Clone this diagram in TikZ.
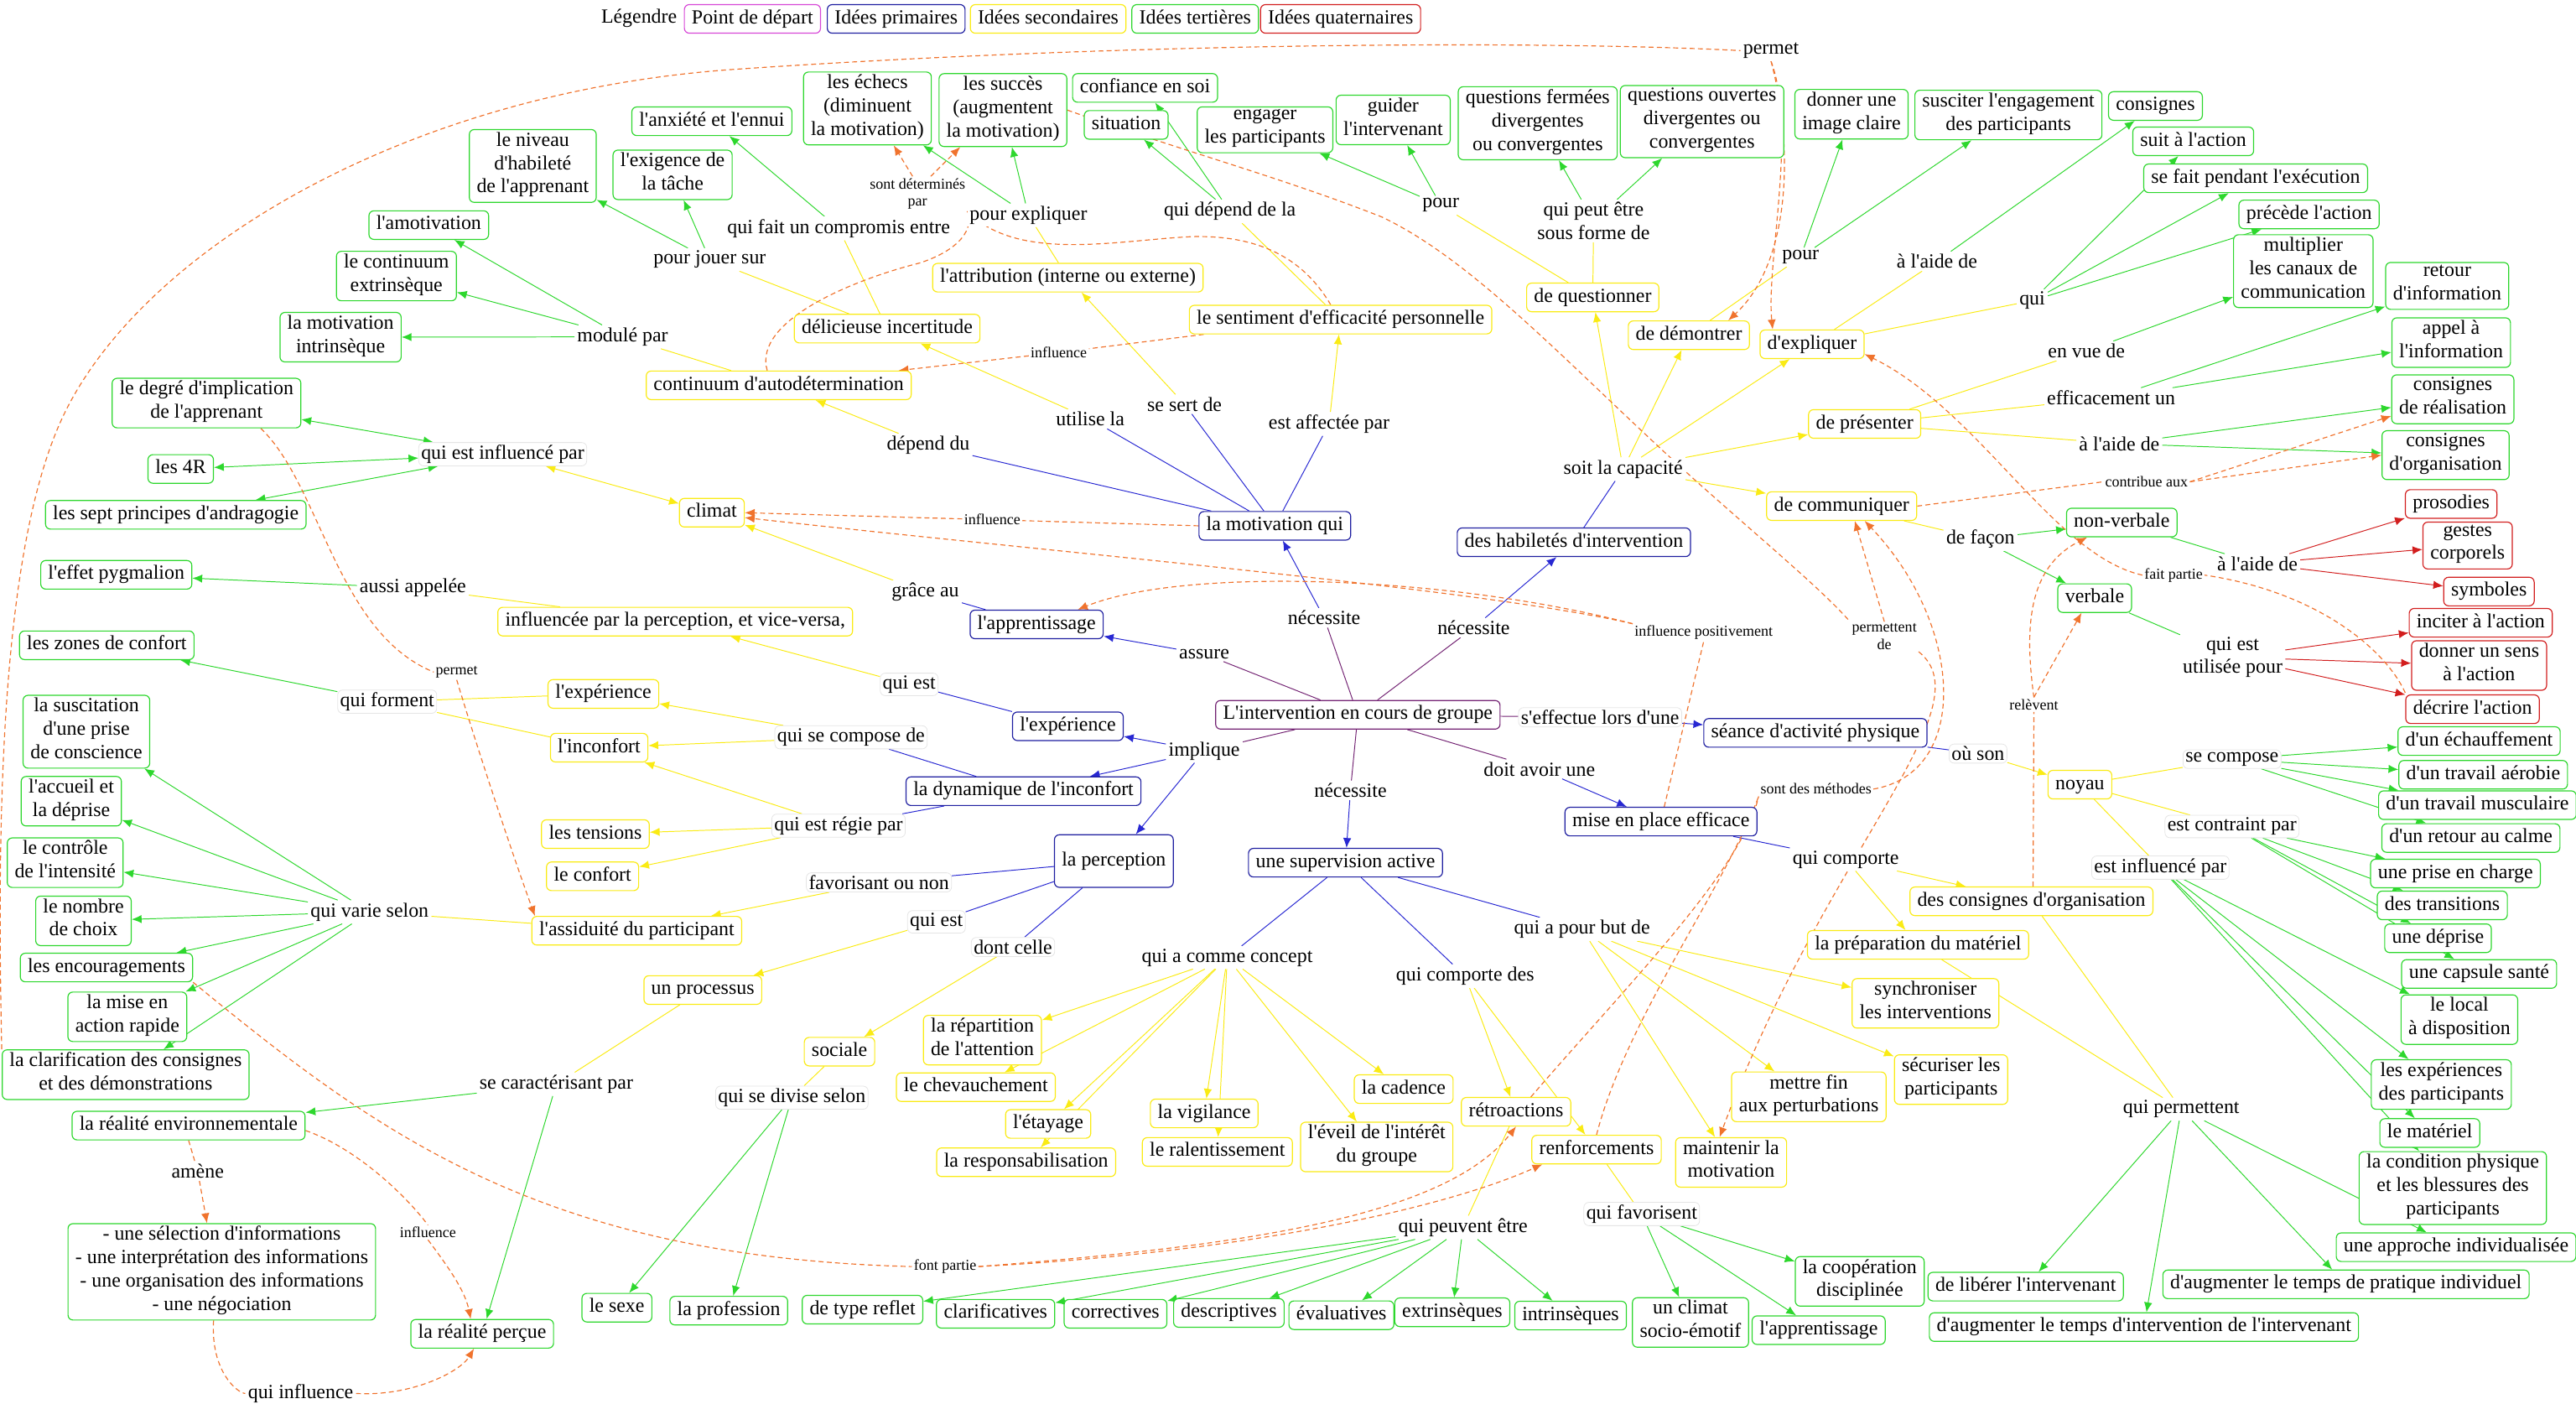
\documentclass[tikz,border=0pt]{standalone}
\usepackage{fontspec}
\setmainfont{Liberation Serif}[Ligatures=TeXOff]
\usetikzlibrary{arrows.meta}
\definecolor{cP}{RGB}{115,35,115}
\definecolor{cM}{RGB}{215,70,215}
\definecolor{cB}{RGB}{30,30,160}
\definecolor{cBl}{RGB}{40,40,210}
\definecolor{cY}{RGB}{250,235,20}
\definecolor{cG}{RGB}{45,215,45}
\definecolor{cR}{RGB}{210,30,30}
\definecolor{cO}{RGB}{240,115,45}
\newcommand\nfs{\fontsize{12.2}{14.2}\selectfont}
\newcommand\sfs{\fontsize{9.2}{10.6}\selectfont}
\pgfdeclarelayer{background}
\pgfsetlayers{background,main}
\begin{document}
\begin{tikzpicture}[x=1pt,y=-1pt,
 box/.style={rectangle,rounded corners=3pt,draw,line width=0.6pt,fill=white,inner xsep=4.5pt,inner ysep=1.6pt,align=center,font=\nfs,execute at begin node=\strut,execute at end node=\strut},
 lk/.style={fill=white,inner sep=1.5pt,font=\nfs,align=center},
 lkf/.style={lk,draw=black!10,rounded corners=3pt},
 sl/.style={fill=white,inner sep=1pt,font=\sfs,align=center},
 ln/.style={line width=0.5pt},
 arw/.style={-{Latex[length=6pt,width=5pt]}},
 bi/.style={{Latex[length=6pt,width=5pt]}-{Latex[length=6pt,width=5pt]}},
 pl/.style={ln,cP}, bl/.style={ln,cBl}, yl/.style={ln,cY}, gl/.style={ln,cG}, rl/.style={ln,cR},
 ol/.style={line width=0.6pt,cO,dash pattern=on 3pt off 2pt}]
\useasboundingbox (0,0) rectangle (1568,854);
% legend
\node[font=\nfs] (leg) at (389,11) {Légendre};
\node[box,draw=cM] (lg1) at (458,11.5) {Point de départ};
\node[box,draw=cB] (lg2) at (545.5,11.5) {Idées primaires};
\node[box,draw=cY] (lg3) at (638,11.5) {Idées secondaires};
\node[box,draw=cG] (lg4) at (727.5,11.5) {Idées tertières};
\node[box,draw=cR] (lg5) at (816,11.5) {Idées quaternaires};
% central + primary
\node[box,draw=cP] (c0) at (826.5,435) {L'intervention en cours de groupe};
\node[box,draw=cB] (mot) at (776,320) {la motivation qui};
\node[box,draw=cB] (hab) at (958,330) {des habiletés d'intervention};
\node[box,draw=cB] (app) at (631,380) {l'apprentissage};
\node[box,draw=cB] (exp) at (650,442) {l'expérience};
\node[box,draw=cB] (dyn) at (623,481.5) {la dynamique de l'inconfort};
\node[box,draw=cB,minimum height=32pt,minimum width=71pt] (per) at (678,524) {la perception};
\node[box,draw=cB] (sea) at (1105,446) {séance d'activité physique};
\node[box,draw=cB] (mep) at (1011,500) {mise en place efficace};
\node[box,draw=cB] (sup) at (819,525) {une supervision active};
\node[lk] (Lassure) at (733,398) {assure};
\node[lk] (Lnec1) at (806,376) {nécessite};
\node[lk] (Lnec2) at (897,382) {nécessite};
\node[lk] (Limpl) at (733,457) {implique};
\node[lk] (Lnec3) at (822,481) {nécessite};
\node[lk] (Ldoit) at (937,468) {doit avoir une};
\node[lkf] (Lseff) at (974,436.5) {s'effectue lors d'une};
% motivation branch
\node[lk] (Ldepend) at (565,271) {dépend du};
\node[lk] (Lutil) at (663.6,255) {utilise la};
\node[lk] (Lsert) at (721,246) {se sert de};
\node[lk] (Laffect) at (809,258) {est affectée par};
\node[box,draw=cY] (cont) at (474,234.5) {continuum d'autodétermination};
\node[box,draw=cY] (deli) at (540,200) {délicieuse incertitude};
\node[box,draw=cY] (attr) at (650,169) {l'attribution (interne ou externe)};
\node[box,draw=cY] (sent) at (816,194.5) {le sentiment d'efficacité personnelle};
\node[lk] (Lcompr) at (510.5,139) {qui fait un compromis entre};
\node[lk] (Ljouer) at (432,158) {pour jouer sur};
\node[box,draw=cG] (anx) at (433.3,73.8) {l'anxiété et l'ennui};
\node[box,draw=cG] (exig) at (409.4,106.4) {l'exigence de\\la tâche};
\node[box,draw=cG] (niv) at (324.3,101) {le niveau\\d'habileté\\de l'apprenant};
\node[lk] (Lmodul) at (379,205) {modulé par};
\node[box,draw=cG] (amot) at (261,137) {l'amotivation};
\node[box,draw=cG] (cext) at (241.3,168) {le continuum\\extrinsèque};
\node[box,draw=cG] (mint) at (207.3,205.2) {la motivation\\intrinsèque};
\node[lk] (Lexpl) at (626,131) {pour expliquer};
\node[box,draw=cG] (ech) at (528,66) {les échecs\\(diminuent\\la motivation)};
\node[box,draw=cG] (succ) at (610.5,67) {les succès\\(augmentent\\la motivation)};
\node[lk] (Ldep) at (748.6,128.6) {qui dépend de la};
\node[box,draw=cG] (conf) at (697,53.5) {confiance en soi};
\node[box,draw=cG] (sit) at (685.5,76) {situation};
% habiletes branch
\node[lk] (Lcap) at (988,285.5) {soit la capacité};
\node[box,draw=cY] (ques) at (969.5,181) {de questionner};
\node[box,draw=cY] (demo) at (1028,204) {de démontrer};
\node[box,draw=cY] (expl) at (1103,209.5) {d'expliquer};
\node[box,draw=cY] (pres) at (1135,258) {de présenter};
\node[box,draw=cY] (comm) at (1121,308) {de communiquer};
\node[lk] (Lpour1) at (877,125) {pour};
\node[box,draw=cG] (eng) at (770,79) {engager\\les participants};
\node[box,draw=cG] (guid) at (848,73) {guider\\l'intervenant};
\node[lk] (Lforme) at (970,134.5) {qui peut être\\sous forme de};
\node[box,draw=cG] (qf) at (936,75) {questions fermées\\divergentes\\ou convergentes};
\node[box,draw=cG] (qo) at (1036,74) {questions ouvertes\\divergentes ou\\convergentes};
\node[lk] (Lpour2) at (1096,156.5) {pour};
\node[box,draw=cG] (img) at (1127,69.5) {donner une\\image claire};
\node[box,draw=cG] (susc) at (1222.5,70) {susciter l'engagement\\des participants};
\node[lk] (Laide1) at (1179,159) {à l'aide de};
\node[box,draw=cG] (csg) at (1312,64.5) {consignes};
\node[lk] (Lqui) at (1237,183) {qui};
\node[box,draw=cG] (suit) at (1335,86) {suit à l'action};
\node[box,draw=cG] (pend) at (1373,108.5) {se fait pendant l'exécution};
\node[box,draw=cG] (prec) at (1405.5,130.5) {précède l'action};
\node[lk] (Lvue) at (1270,213.6) {en vue de};
\node[box,draw=cG] (mult) at (1402,165) {multiplier\\les canaux de\\communication};
\node[lk] (Leff) at (1285,242) {efficacement un};
\node[box,draw=cG] (ret) at (1489.6,174) {retour\\d'information};
\node[box,draw=cG] (appl) at (1492,208.5) {appel à\\l'information};
\node[lk] (Laide2) at (1290,270) {à l'aide de};
\node[box,draw=cG] (creal) at (1493,243) {consignes\\de réalisation};
\node[box,draw=cG] (corg) at (1488.6,277) {consignes\\d'organisation};
\node[lk] (Lfacon) at (1205.5,328) {de façon};
\node[box,draw=cG] (nverb) at (1291.5,318) {non-verbale};
\node[box,draw=cG] (verb) at (1275,364) {verbale};
\node[lk] (Laide3) at (1374,343) {à l'aide de};
\node[box,draw=cR] (pros) at (1492,306.7) {prosodies};
\node[box,draw=cR] (gest) at (1502,332) {gestes\\corporels};
\node[box,draw=cR] (symb) at (1515,360) {symboles};
\node[lk] (Lutil2) at (1359,400) {qui est\\utilisée pour};
\node[box,draw=cR] (inc) at (1510,379) {inciter à l'action};
\node[box,draw=cR] (sens) at (1509,405) {donner un sens\\à l'action};
\node[box,draw=cR] (decr) at (1505,431.6) {décrire l'action};
% seance branch
\node[lkf] (Lou) at (1204,458.6) {où son};
\node[box,draw=cY] (noy) at (1266,477.5) {noyau};
\node[lkf] (Lcomp) at (1358.6,462) {se compose};
\node[box,draw=cG] (ech2) at (1509,451) {d'un échauffement};
\node[box,draw=cG] (aer) at (1511.5,471.5) {d'un travail aérobie};
\node[box,draw=cG] (musc) at (1508,490) {d'un travail musculaire};
\node[box,draw=cG] (calm) at (1504,510) {d'un retour au calme};
\node[lkf] (Lcontr) at (1358.6,503) {est contraint par};
\node[box,draw=cG] (prise) at (1494.6,531.6) {une prise en charge};
\node[box,draw=cG] (trans) at (1486.6,551) {des transitions};
\node[box,draw=cG] (depr) at (1484,571) {une déprise};
\node[box,draw=cG] (caps) at (1509,592.7) {une capsule santé};
\node[lkf] (Linfl) at (1315,528) {est influencé par};
\node[box,draw=cG] (local) at (1497,620.5) {le local\\à disposition};
\node[box,draw=cG] (expp) at (1486,660) {les expériences\\des participants};
\node[box,draw=cG] (mat) at (1479,689.5) {le matériel};
\node[box,draw=cG] (cond) at (1493,723) {la condition physique\\et les blessures des\\participants};
% mise en place
\node[lk] (Lcomporte) at (1123.5,523) {qui comporte};
\node[box,draw=cY] (corg2) at (1236.5,548.5) {des consignes d'organisation};
\node[box,draw=cY] (prep) at (1167.5,575) {la préparation du matériel};
\node[lk] (Lperm) at (1327.7,675) {qui permettent};
\node[box,draw=cG] (indiv) at (1495,759) {une approche individualisée};
\node[box,draw=cG] (prat) at (1428,781.6) {d'augmenter le temps de pratique individuel};
\node[box,draw=cG] (lib) at (1233,783) {de libérer l'intervenant};
\node[box,draw=cG] (augm) at (1305,807.6) {d'augmenter le temps d'intervention de l'intervenant};
% supervision
\node[lk] (Lbut) at (963,565.5) {qui a pour but de};
\node[box,draw=cY] (sync) at (1172,610.6) {synchroniser\\les interventions};
\node[box,draw=cY] (secu) at (1187.6,657) {sécuriser les\\participants};
\node[box,draw=cY] (fin) at (1101,667.5) {mettre fin\\aux perturbations};
\node[box,draw=cY] (maint) at (1053.7,707.4) {maintenir la\\motivation};
\node[lk] (Lcdes) at (891.8,594) {qui comporte des};
\node[box,draw=cY] (retro) at (922.8,676.6) {rétroactions};
\node[box,draw=cY] (renf) at (971.8,699.6) {renforcements};
\node[lk] (Lpeuv) at (890.5,747) {qui peuvent être};
\node[box,draw=cG] (refl) at (525,797) {de type reflet};
\node[box,draw=cG] (clar) at (606,799.5) {clarificatives};
\node[box,draw=cG] (corr) at (679,799.5) {correctives};
\node[box,draw=cG] (desc) at (748,799) {descriptives};
\node[box,draw=cG] (evalu) at (816.5,800.4) {évaluatives};
\node[box,draw=cG] (extr) at (884,798.6) {extrinsèques};
\node[box,draw=cG] (intr) at (956,800.6) {intrinsèques};
\node[lkf] (Lfav) at (999.3,738.8) {qui favorisent};
\node[box,draw=cG] (clim2) at (1029,804.8) {un climat\\socio-émotif};
\node[box,draw=cG] (app2) at (1107,809.5) {l'apprentissage};
\node[box,draw=cG] (coop) at (1132,779.8) {la coopération\\disciplinée};
\node[lk] (Lconc) at (747,582.7) {qui a comme concept};
\node[box,draw=cY] (rep) at (598,633) {la répartition\\de l'attention};
\node[box,draw=cY] (chev) at (594,661.6) {le chevauchement};
\node[box,draw=cY] (etay) at (638,684) {l'étayage};
\node[box,draw=cY] (resp) at (624.6,707.3) {la responsabilisation};
\node[box,draw=cY] (vig) at (733,677.6) {la vigilance};
\node[box,draw=cY] (ral) at (741,701) {le ralentissement};
\node[box,draw=cY] (eveil) at (838,698) {l'éveil de l'intérêt\\du groupe};
\node[box,draw=cY] (cad) at (854.4,662.8) {la cadence};
% perception
\node[lkf] (Ldont) at (616.6,576.3) {dont celle};
\node[box,draw=cY] (soc) at (511,640) {sociale};
\node[lkf] (Ldiv) at (482,668) {qui se divise selon};
\node[box,draw=cG] (sexe) at (375.5,795.8) {le sexe};
\node[box,draw=cG] (prof) at (443.6,797.6) {la profession};
\node[lkf] (Lqe2) at (570,561) {qui est};
\node[box,draw=cY] (proc) at (427.8,602.5) {un processus};
\node[lkf] (Lfavn) at (535,537) {favorisant ou non};
\node[box,draw=cY] (assid) at (387.6,566.4) {l'assiduité du participant};
\node[lk] (Lcarac) at (338.6,659.8) {se caractérisant par};
\node[box,draw=cG] (renv) at (114.8,685) {la réalité environnementale};
\node[box,draw=cG] (sel) at (135,774) {- une sélection d'informations\\- une interprétation des informations\\- une organisation des informations\\- une négociation};
\node[box,draw=cG] (rperc) at (293.5,811.7) {la réalité perçue};
\node[lk] (Lamene) at (120.3,712.6) {amène};
\node[lk] (Lqinfl) at (183,848) {qui influence};
\node[sl] (Xinf3) at (260.5,750) {influence};
\node[lk] (Lvarie) at (225,555) {qui varie selon};
\node[box,draw=cG] (susci) at (52.6,445.3) {la suscitation\\d'une prise\\de conscience};
\node[box,draw=cG] (accu) at (43.4,487.6) {l'accueil et\\la déprise};
\node[box,draw=cG] (ctrl) at (39.7,525) {le contrôle\\de l'intensité};
\node[box,draw=cG] (nomb) at (50.8,560.4) {le nombre\\de choix};
\node[box,draw=cG] (enco) at (64.8,588.8) {les encouragements};
\node[box,draw=cG] (mise) at (77.5,618.8) {la mise en\\action rapide};
\node[box,draw=cG] (clarif) at (76.5,654) {la clarification des consignes\\et des démonstrations};
% dynamique
\node[lkf] (Lsec) at (518,448.7) {qui se compose de};
\node[lkf] (Lregie) at (510.4,502.5) {qui est régie par};
\node[box,draw=cY] (exp2) at (367.3,422.3) {l'expérience};
\node[box,draw=cY] (inc2) at (364.7,455) {l'inconfort};
\node[box,draw=cY] (tens) at (362.4,507.6) {les tensions};
\node[box,draw=cY] (confort) at (360.7,533.3) {le confort};
\node[lkf] (Lforment) at (235.7,427) {qui forment};
\node[box,draw=cG] (zones) at (65,392.7) {les zones de confort};
\node[lkf] (Lqe1) at (553.4,416.5) {qui est};
\node[box,draw=cY] (infp) at (411,378.3) {influencée par la perception, et vice-versa,};
\node[lk] (Laussi) at (251.3,357.8) {aussi appelée};
\node[box,draw=cG] (pyg) at (70.8,349.8) {l'effet pygmalion};
\node[lk] (Lgrace) at (563.2,360.4) {grâce au};
\node[box,draw=cY] (clim) at (433.3,312) {climat};
\node[lkf] (Linfpar) at (306,276.4) {qui est influencé par};
\node[box,draw=cG] (degre) at (125.7,245.3) {le degré d'implication\\de l'apprenant};
\node[box,draw=cG] (r4) at (110,285.4) {les 4R};
\node[box,draw=cG] (sept) at (107,313.3) {les sept principes d'andragogie};
% cross-link labels
\node[sl] (Xdet) at (558.5,118) {sont déterminés\\par};
\node[sl] (Xinf1) at (644.5,214.5) {influence};
\node[sl] (Xinf2) at (604,316.3) {influence};
\node[sl] (Xinfpos) at (1037,385) {influence positivement};
\node[sl] (Xpermde) at (1147,387.5) {permettent\\de};
\node[sl] (Xmeth) at (1105.4,480.2) {sont des méthodes};
\node[sl] (Xcontr) at (1306.6,293.2) {contribue aux};
\node[sl] (Xfait) at (1323,350) {fait partie};
\node[sl] (Xrelev) at (1238,428.8) {relèvent};
\node[sl] (Xperm2) at (278,409) {permet};
\node[sl] (Xfont) at (575.3,770.8) {font partie};
\node[lk] (Xperm1) at (1078,30.8) {permet};

\begin{pgfonlayer}{background}
\foreach \t in {Lassure,Lnec1,Lnec2,Limpl,Lnec3,Ldoit,Lseff} \draw[pl] (c0) -- (\t);
\foreach \s/\t in {Lassure/app,Lnec1/mot,Lnec2/hab,Limpl/exp,Limpl/dyn,Limpl/per,Lnec3/sup,Ldoit/mep,Lseff/sea} \draw[bl,arw] (\s) -- (\t);
\foreach \s/\t in {mot/Ldepend,mot/Lutil,mot/Lsert,mot/Laffect,hab/Lcap,app/Lgrace,exp/Lqe1,dyn/Lsec,dyn/Lregie,per/Lfavn,per/Lqe2,per/Ldont,sea/Lou,mep/Lcomporte,sup/Lconc,sup/Lcdes,sup/Lbut} \draw[bl] (\s) -- (\t);
\foreach \s/\t in {Ldepend/cont,Lutil/deli,Lsert/attr,Laffect/sent,Lcap/ques,Lcap/demo,Lcap/expl,Lcap/pres,Lcap/comm,Lgrace/clim,Lqe1/infp,Lsec/exp2,Lsec/inc2,Lregie/inc2,Lregie/tens,Lregie/confort,Lfavn/assid,Lqe2/proc,Ldont/soc,Lou/noy,Lcomporte/corg2,Lcomporte/prep,Lconc/rep,Lconc/chev,Lconc/etay,Lconc/resp,Lconc/vig,Lconc/ral,Lconc/eveil,Lconc/cad,Lcdes/retro,Lcdes/renf,Lbut/sync,Lbut/secu,Lbut/fin,Lbut/maint} \draw[yl,arw] (\s) -- (\t);
\foreach \s/\t in {deli/Lcompr,deli/Ljouer,cont/Lmodul,attr/Lexpl,sent/Ldep,ques/Lpour1,ques/Lforme,demo/Lpour2,expl/Laide1,expl/Lqui,pres/Lvue,pres/Leff,pres/Laide2,comm/Lfacon,noy/Lcomp,noy/Lcontr,noy/Linfl,corg2/Lperm,prep/Lperm,retro/Lpeuv,renf/Lfav,soc/Ldiv,proc/Lcarac,assid/Lvarie,exp2/Lforment,inc2/Lforment,infp/Laussi} \draw[yl] (\s) -- (\t);
\draw[yl,bi] (clim) -- (Linfpar);
\foreach \s/\t in {Lcompr/anx,Ljouer/exig,Ljouer/niv,Lmodul/amot,Lmodul/cext,Lmodul/mint,Lexpl/ech,Lexpl/succ,Ldep/conf,Ldep/sit,Lpour1/eng,Lpour1/guid,Lforme/qf,Lforme/qo,Lpour2/img,Lpour2/susc,Laide1/csg,Lqui/suit,Lqui/pend,Lqui/prec,Lvue/mult,Leff/ret,Leff/appl,Laide2/creal,Laide2/corg,Lfacon/nverb,Lfacon/verb,Lcomp/ech2,Lcomp/aer,Lcomp/musc,Lcomp/calm,Lcontr/prise,Lcontr/trans,Lcontr/depr,Lcontr/caps,Linfl/local,Linfl/expp,Linfl/mat,Linfl/cond,Lperm/lib,Lperm/augm,Lperm/prat,Lperm/indiv,Lpeuv/refl,Lpeuv/clar,Lpeuv/corr,Lpeuv/desc,Lpeuv/evalu,Lpeuv/extr,Lpeuv/intr,Lfav/clim2,Lfav/app2,Lfav/coop,Ldiv/sexe,Ldiv/prof,Lcarac/renv,Lcarac/rperc,Lvarie/susci,Lvarie/accu,Lvarie/ctrl,Lvarie/nomb,Lvarie/enco,Lvarie/mise,Lvarie/clarif,Lforment/zones,Laussi/pyg} \draw[gl,arw] (\s) -- (\t);
\foreach \t in {degre,r4,sept} \draw[gl,bi] (Linfpar) -- (\t);
\draw[gl] (nverb) -- (Laide3);
\draw[gl] (verb) -- (Lutil2);
\foreach \s/\t in {Laide3/pros,Laide3/gest,Laide3/symb,Lutil2/inc,Lutil2/sens,Lutil2/decr} \draw[rl,arw] (\s) -- (\t);
% cross-links
\draw[ol] ([xshift=-7pt]cont.north) .. controls (458,195) and (520,170) .. (560,160) .. controls (590,150) and (592,135) .. (Xdet.south east);
\draw[ol] ([xshift=-6pt]sent.north) .. controls (795,160) and (770,143) .. (726,144) .. controls (680,146) and (620,160) .. (Xdet.south east);
\draw[ol,arw] ([xshift=-3pt]Xdet.north) -- ([xshift=16pt]ech.south);
\draw[ol,arw] ([xshift=8pt]Xdet.north) -- ([xshift=-26pt]succ.south);
\draw[ol] ([xshift=9pt]sent.south west) -- (Xinf1);
\draw[ol,arw] (Xinf1) -- ([xshift=-8pt]cont.north east);
\draw[ol] (mot.west) -- (Xinf2);
\draw[ol,arw] (Xinf2) -- (clim.east);
\draw[ol] ([xshift=2pt]mep.north) -- (Xinfpos.south);
\draw[ol,arw] (Xinfpos.north west) .. controls (900,358) and (640,336) .. ([yshift=-3pt]clim.east);
\draw[ol,arw] (Xinfpos.north west) .. controls (880,350) and (720,345) .. ([xshift=25pt]app.north);
\draw[ol] (succ.east) .. controls (720,92) and (780,108) .. (841,132) .. controls (900,160) and (960,228) .. (1036,296) .. controls (1080,335) and (1110,360) .. (Xpermde.north west);
\draw[ol,arw] (Xpermde.north) -- ([xshift=8pt]comm.south);
\draw[ol,arw] (Xpermde.south east) .. controls (1210,430) and (1110,520) .. ([xshift=-7pt]maint.north);
\draw[ol] ([xshift=9pt]retro.north) .. controls (990,600) and (1060,530) .. (Xmeth.south west);
\draw[ol] (renf.north) .. controls (990,620) and (1050,540) .. (Xmeth.south west);
\draw[ol,arw] (Xmeth.east) .. controls (1200,470) and (1195,380) .. ([xshift=14pt]comm.south);
\draw[ol] (comm.east) -- (Xcontr.west);
\draw[ol,arw] (Xcontr.east) -- ([yshift=5pt]creal.south west);
\draw[ol,arw] (Xcontr.east) -- (corg.west);
\draw[ol] ([yshift=1pt]decr.north west) .. controls (1452,395) and (1410,360) .. (Xfait.east);
\draw[ol,arw] (Xfait.west) .. controls (1250,338) and (1205,250) .. ([yshift=-6pt]expl.east);
\draw[ol] ([xshift=1pt]corg2.north) -- (Xrelev.south);
\draw[ol,arw] (Xrelev.north) .. controls (1232,380) and (1235,345) .. ([xshift=-21pt]nverb.south);
\draw[ol,arw] (Xrelev.north) -- ([xshift=-8pt]verb.south);
\draw[ol] ([xshift=33pt]degre.south) .. controls (195,295) and (205,385) .. (Xperm2.west);
\draw[ol,arw] (Xperm2.south) .. controls (292,460) and (312,520) .. ([xshift=-62pt]assid.north);
\draw[ol] (clarif.north west) .. controls (-2,500) and (0,330) .. (40,250) .. controls (90,150) and (250,55) .. (450,42) .. controls (700,25) and (950,25) .. (Xperm1.west);
\draw[ol,arw] (Xperm1.south) .. controls (1092,90) and (1090,160) .. ([xshift=24pt]demo.north);
\draw[ol,arw] (Xperm1.south) .. controls (1094,80) and (1075,160) .. ([xshift=-24pt]expl.north);
\draw[ol] (enco.south east) .. controls (230,690) and (330,765) .. (Xfont.west);
\draw[ol,arw] (Xfont.east) .. controls (760,758) and (880,740) .. (retro.south);
\draw[ol,arw] (Xfont.east) .. controls (760,762) and (880,735) .. ([xshift=-33pt]renf.south);
\draw[ol] (renv.south) -- (Lamene);
\draw[ol,arw] (Lamene) -- ([xshift=-9pt]sel.north);
\draw[ol] ([yshift=-3pt]renv.east) .. controls (215,698) and (245,725) .. (Xinf3.north);
\draw[ol,arw] (Xinf3.south) .. controls (272,770) and (283,785) .. ([xshift=-7pt]rperc.north);
\draw[ol] ([xshift=-5pt]sel.south) .. controls (128,835) and (145,848) .. (Lqinfl.west);
\draw[ol,arw] (Lqinfl.east) .. controls (250,850) and (280,835) .. ([xshift=-5pt]rperc.south);
\end{pgfonlayer}
\end{tikzpicture}
\end{document}
